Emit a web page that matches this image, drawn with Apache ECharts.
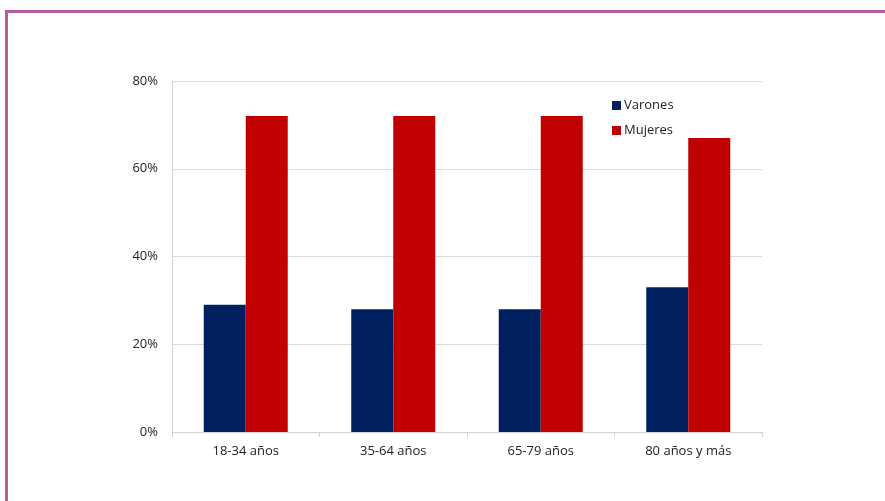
<!DOCTYPE html>
<html>
<head>
<meta charset="utf-8">
<script src="https://cdn.jsdelivr.net/npm/echarts@6/dist/echarts.min.js"></script>
<style>
html,body{margin:0;padding:0;background:#fff;}
#wrap{position:relative;width:885px;height:501px;overflow:hidden;}
#frame{position:absolute;left:5px;top:10px;right:-10px;bottom:-10px;border-top:3px solid #B35CA2;border-left:3px solid #B35CA2;}
#chart{position:absolute;left:0;top:0;width:885px;height:501px;}
</style>
</head>
<body>
<div id="wrap">
<div id="frame"></div>
<div id="chart"></div>
</div>
<script>
const categories = ['18-34 años', '35-64 años', '65-79 años', '80 años y más'];
const varones = [29, 28, 28, 33];
const mujeres = [72, 72, 72, 67];
const seriesNames = ['Varones', 'Mujeres'];

const chart = echarts.init(document.getElementById('chart'));
const font = "'Open Sans', 'Liberation Sans', sans-serif";
chart.setOption({
  animation: false,
  backgroundColor: 'transparent',
  textStyle: { fontFamily: font },
  legend: {
    orient: 'vertical',
    left: 607,
    top: 94,
    itemWidth: 9,
    itemHeight: 9,
    itemGap: 12,
    icon: 'rect',
    textStyle: { fontSize: 13, color: '#222', fontFamily: font, padding: [0, 0, 0, -2] },
    data: seriesNames
  },
  grid: { left: 172, right: 123, top: 81, bottom: 69, containLabel: false },
  xAxis: {
    type: 'category',
    data: categories,
    axisLine: { lineStyle: { color: '#D0D0D0', width: 1 } },
    axisTick: { show: true, alignWithLabel: false, length: 5, lineStyle: { color: '#D0D0D0' } },
    axisLabel: { fontSize: 13, color: '#222', margin: 13, fontFamily: font }
  },
  yAxis: {
    type: 'value',
    min: 0,
    max: 80,
    interval: 20,
    axisLine: { show: true, lineStyle: { color: '#D0D0D0' } },
    axisTick: { show: false },
    splitLine: { lineStyle: { color: '#D9D9D9', width: 1 } },
    axisLabel: { formatter: '{value}%', fontSize: 13, color: '#222', margin: 14, fontFamily: font }
  },
  series: [
    { name: seriesNames[0], type: 'bar', data: varones, barWidth: 42, barGap: '0%', itemStyle: { color: '#002060' } },
    { name: seriesNames[1], type: 'bar', data: mujeres, barWidth: 42, barGap: '0%', itemStyle: { color: '#C00000' } }
  ]
});
</script>
</body>
</html>
